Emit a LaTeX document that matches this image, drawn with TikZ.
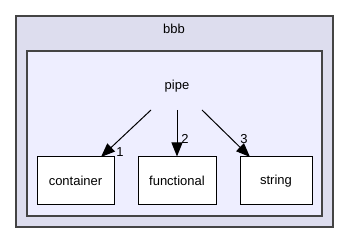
\documentclass[tikz,border=0pt]{standalone}
\usepackage{fontspec}
\setmainfont{Liberation Sans}
\usetikzlibrary{arrows.meta}
\definecolor{outerfill}{HTML}{DDDDEE}
\definecolor{innerfill}{HTML}{EEEEFF}
\definecolor{frame}{HTML}{444444}
\begin{document}
\begin{tikzpicture}[x=1pt,y=-1pt,
  cluster/.style={draw=frame,line width=1.2pt},
  dirbox/.style={draw=black,fill=white,line width=1pt,minimum width=#1,minimum height=48,inner sep=0pt,font=\fontsize{13}{15}\selectfont},
  dep/.style={-{Triangle[length=14pt,width=11pt]},line width=1pt},
  num/.style={font=\fontsize{13}{15}\selectfont,inner sep=0pt}]
  \useasboundingbox (0,0) rectangle (349,243);
  % outer directory bbb
  \draw[cluster,fill=outerfill] (16,16) rectangle (333,227);
  \node[font=\fontsize{13}{15}\selectfont] (bbb) at (174,29) {bbb};
  % inner directory pipe
  \draw[cluster,fill=innerfill] (27,51) rectangle (322,216);
  \node[font=\fontsize{13}{15}\selectfont,inner sep=0pt] (pipe) at (177,86) {pipe};
  \coordinate (p1) at (151,110);
  \coordinate (p2) at (177,110);
  \coordinate (p3) at (202,110);
  % subdirectories
  \node[dirbox=77] (container) at (75.5,181) {container};
  \node[dirbox=78] (functional) at (177,181) {functional};
  \node[dirbox=72] (string) at (276,181) {string};
  % arrow ends on the top edges
  \coordinate (c1) at (101,157);
  \coordinate (c3) at (250,157);
  % dependencies
  \draw[dep] (p1) -- (c1);
  \draw[dep] (p2) -- (functional.north);
  \draw[dep] (p3) -- (c3);
  \node[num] (n1) at (120,152) {1};
  \node[num] (n2) at (185,139) {2};
  \node[num] (n3) at (244,139) {3};
\end{tikzpicture}
\end{document}
